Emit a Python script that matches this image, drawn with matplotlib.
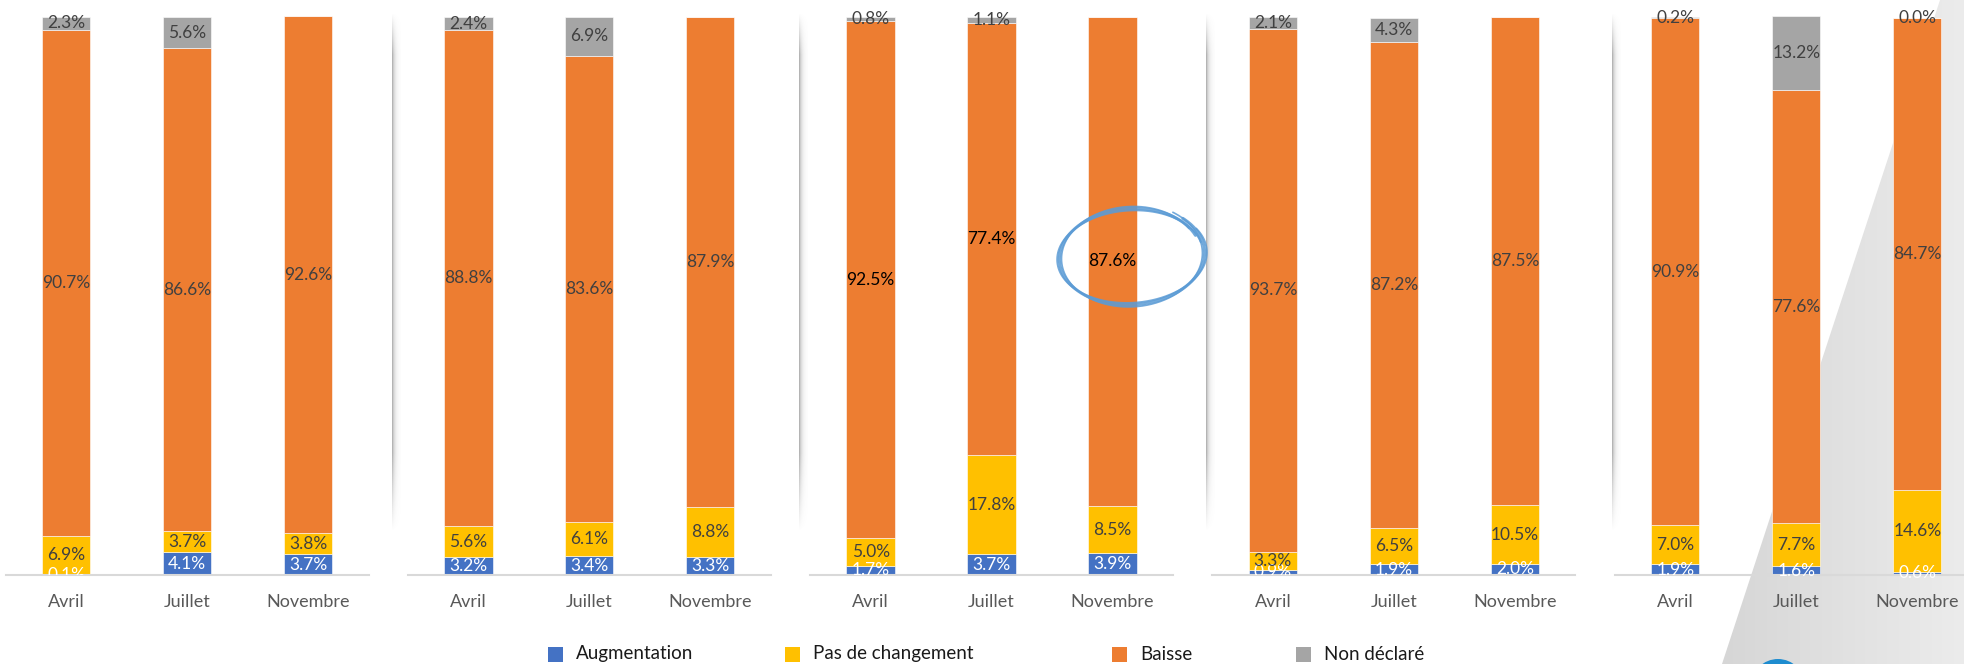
import numpy as np
import matplotlib
matplotlib.use("Agg")
import matplotlib.pyplot as plt
from matplotlib.patches import Rectangle, Polygon, Circle

plt.rcParams['font.family'] = ['Lato', 'DejaVu Sans']

# ---------------- data ----------------
months = ["Avril", "Juillet", "Novembre"]
series_names = ["Augmentation", "Pas de changement", "Baisse", "Non déclaré"]
colors = ["#4472C4", "#FFC000", "#ED7D31", "#A5A5A5"]

augmentation = [[0.1, 4.1, 3.7], [3.2, 3.4, 3.3], [1.7, 3.7, 3.9], [0.9, 1.9, 2.0], [1.9, 1.6, 0.6]]
pas_de_changement = [[6.9, 3.7, 3.8], [5.6, 6.1, 8.8], [5.0, 17.8, 8.5], [3.3, 6.5, 10.5], [7.0, 7.7, 14.6]]
baisse = [[90.7, 86.6, 92.6], [88.8, 83.6, 87.9], [92.5, 77.4, 87.6], [93.7, 87.2, 87.5], [90.9, 77.6, 84.7]]
non_declare = [[2.3, 5.6, None], [2.4, 6.9, None], [0.8, 1.1, None], [2.1, 4.3, None], [0.2, 13.2, 0.0]]

# ---------------- figure ----------------
W, H = 1965, 664
fig = plt.figure(figsize=(W / 100, H / 100), dpi=100)
fig.patch.set_facecolor("white")

# background axes in pixel coordinates
bg = fig.add_axes([0, 0, 1, 1], zorder=0)
bg.set_xlim(0, W)
bg.set_ylim(H, 0)
bg.axis("off")

# grey diagonal decoration at right
poly = Polygon([(1940, 0), (W, 0), (W, H), (1722, H)], closed=True, facecolor="none", edgecolor="none")
bg.add_patch(poly)
grad = np.linspace(0, 1, 256)[None, :]
im = bg.imshow(grad, extent=(1722, W, H, 0), cmap=matplotlib.colors.LinearSegmentedColormap.from_list(
    "g", ["#d6d6d6", "#ececec"]), aspect="auto", zorder=0.5)
im.set_clip_path(poly)
bg.set_xlim(0, W)
bg.set_ylim(H, 0)

# separator shadows between panels
for sx in [392, 799, 1206, 1612]:
    wpx, y0, y1 = 9, 12, 532
    xs = np.linspace(0, 1, wpx)
    ys = np.linspace(0, 1, 200)
    ax_prof = np.exp(-xs * 3.2)
    y_prof = np.clip(np.minimum(ys / 0.08, (1 - ys) / 0.15), 0, 1)
    alpha = (y_prof[:, None] * ax_prof[None, :]) * 0.45
    rgba = np.zeros((200, wpx, 4))
    rgba[..., :3] = 0.35
    rgba[..., 3] = alpha
    bg.imshow(rgba, extent=(sx, sx + wpx, y1, y0), aspect="auto", zorder=0.6, interpolation="bilinear")
bg.set_xlim(0, W)
bg.set_ylim(H, 0)

# small logo fragment bottom right
bg.add_patch(Circle((1778, 686), 27, facecolor="#1e8ccf", edgecolor="none", zorder=0.7))

# ---------------- panels ----------------
unit = 121.0          # pixels per category
base_y = 575.0        # pixel row of baseline
px_per_pct = 5.58
ymax = 103.0
x = np.arange(len(months))

for p in range(5):
    cx0 = 66 + 402.3 * p
    left = cx0 - 0.5 * unit
    width = 3 * unit
    bottom = H - base_y
    height = ymax * px_per_pct
    ax = fig.add_axes([left / W, bottom / H, width / W, height / H], zorder=1)
    ax.patch.set_alpha(0)
    ax.set_xlim(-0.5, 2.5)
    ax.set_ylim(0, ymax)

    vals = [augmentation[p], pas_de_changement[p], baisse[p],
            [v if v is not None else 0.0 for v in non_declare[p]]]
    shown = [augmentation[p], pas_de_changement[p], baisse[p], non_declare[p]]
    cum = np.zeros(3)
    for s in range(4):
        v = np.array(vals[s], dtype=float)
        ax.bar(x, v, bottom=cum, width=0.4, color=colors[s], edgecolor="white",
               linewidth=0.4, zorder=2)
        for i in range(3):
            if shown[s][i] is None:
                continue
            if s == 0:
                tc = "white"
            elif s == 2 and p == 2:
                tc = "black"
            else:
                tc = "#404040"
            ax.text(x[i], cum[i] + v[i] / 2, f"{shown[s][i]:.1f}%", ha="center", va="center",
                    fontsize=12.5, color=tc, zorder=3, clip_on=(p != 4))
        cum += v

    for sp in ["top", "right", "left"]:
        ax.spines[sp].set_visible(False)
    ax.spines["bottom"].set_color("#d9d9d9")
    ax.spines["bottom"].set_linewidth(1.5)
    ax.spines["bottom"].set_zorder(2.5)
    ax.set_yticks([])
    ax.set_xticks(x)
    ax.set_xticklabels(months, fontsize=13, color="#595959")
    ax.tick_params(axis="x", length=0, pad=14)

# ---------------- overlay: hand-drawn circle and legend ----------------
ov = fig.add_axes([0, 0, 1, 1], zorder=5)
ov.set_xlim(0, W)
ov.set_ylim(H, 0)
ov.axis("off")
ov.patch.set_alpha(0)

cxc, cyc, a, b = 1131, 256, 70, 47
rot = np.deg2rad(-4)
for k, (t0, t1, da, db, lw) in enumerate([(0.35, 2 * np.pi + 0.75, 0, 0, 2.2),
                                          (0.2, 2 * np.pi + 0.5, 2, -2, 1.4),
                                          (0.5, 2 * np.pi + 0.9, -2, 2, 1.2)]):
    t = np.linspace(t0, t1, 400)
    grow = 1 + 0.06 * (t - t0) / (t1 - t0)
    ex = (a + da) * grow * np.cos(t)
    ey = -(b + db) * grow * np.sin(t)
    xr = cxc + ex * np.cos(rot) - ey * np.sin(rot)
    yr = cyc + ex * np.sin(rot) + ey * np.cos(rot)
    ov.plot(xr, yr, color="#5B9BD5", lw=lw, alpha=0.85, solid_capstyle="round")

leg_x = [548, 785, 1112, 1296]
leg_y = 654
for i, name in enumerate(series_names):
    ov.add_patch(Rectangle((leg_x[i], leg_y - 7.5), 15, 15, facecolor=colors[i], edgecolor="none"))
    ov.text(leg_x[i] + 28, leg_y, name, fontsize=13.5, color="#1a1a1a", va="center", ha="left")

fig.savefig("out.png", dpi=100)
